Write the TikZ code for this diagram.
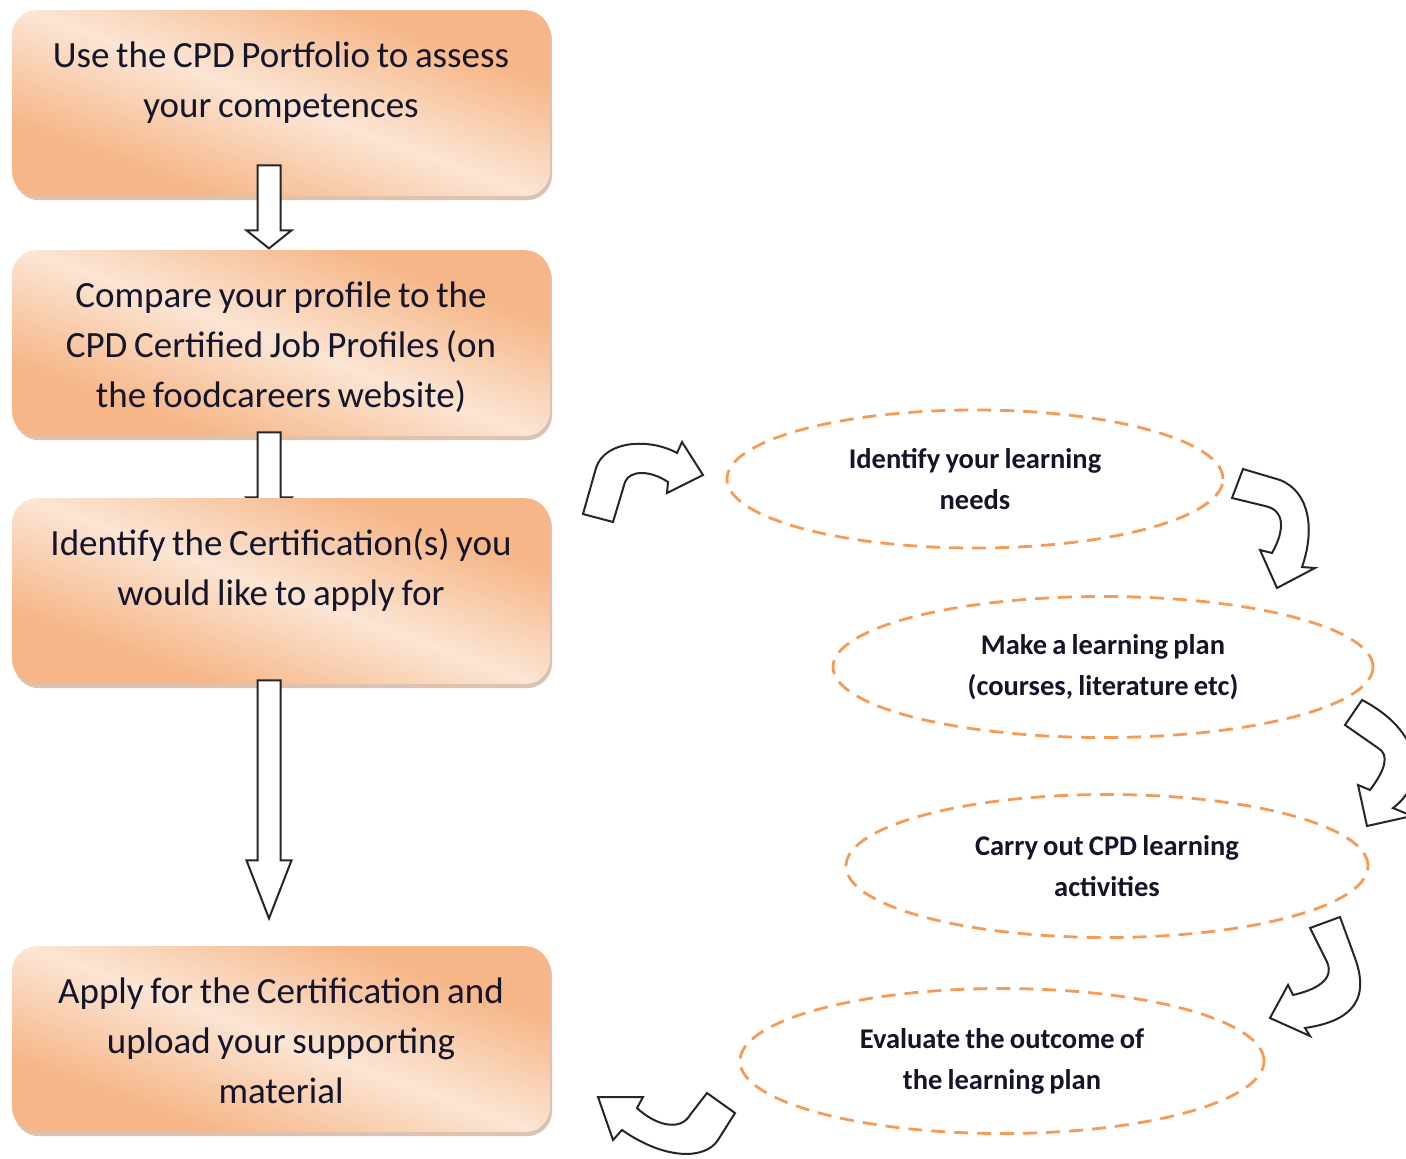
\documentclass[tikz,border=0pt]{standalone}
\usepackage{fontspec}
\setmainfont[WordSpace=0.8]{Carlito}
\usetikzlibrary{calc,shapes.geometric,shadows}
\definecolor{ink}{HTML}{14142A}
\definecolor{peach}{HTML}{F6B687}
\definecolor{cream}{HTML}{FBE5D4}
\definecolor{dashorange}{HTML}{F59B55}
\definecolor{shade}{HTML}{C09070}
\pgfdeclarehorizontalshading{boxshade}{100bp}{color(0bp)=(peach); color(30bp)=(peach); color(50bp)=(cream); color(70bp)=(peach); color(100bp)=(peach)}
\tikzset{
  box/.style={rounded corners=25pt, shading=boxshade, shading angle=70, anchor=north,
    drop shadow={shadow xshift=2pt, shadow yshift=-4pt, fill=shade, opacity=0.55},
    text width=538pt, align=flush center, inner xsep=0pt, inner ysep=0pt,
    text height=57pt, text depth=129pt, text=ink, font=\fontsize{37}{50}\selectfont},
  goal/.style={ellipse, draw=dashorange, line width=2.8pt, dash pattern=on 14pt off 9pt,
    align=center, inner sep=0pt, text=ink, font=\bfseries\fontsize{28.5}{41}\selectfont},
  hollow/.style={draw=black!85, fill=white, line width=2pt, line join=miter},
  pics/blockdown/.style 2 args={code={
    \draw[hollow] (-11.5,0) -- (-11.5,#1) -- (-22.5,#1) -- (0,#1+#2) -- (22.5,#1) -- (11.5,#1) -- (11.5,0) -- cycle;}}
}

\begin{document}
\begin{tikzpicture}[x=1pt,y=-1pt]
\clip (0,0) rectangle (1406,1159);

% Left column
\node[box] (use) at (281,10) {Use the CPD Portfolio to assess\\your competences};
\node[box] (compare) at (281,250) {Compare your profile to the\\CPD Certified Job Profiles (on\\the foodcareers website)};

\pic at ($(use.south)+(-12,-31)$) {blockdown={65}{18}};
\pic at ($(compare.south)+(-12,-4)$) {blockdown={65}{20}};

\node[box] (certif) at (281,498) {Identify the Certification(s) you\\would like to apply for};
\pic at ($(certif.south)+(-12,-4)$) {blockdown={180}{58}};
\node[box] (apply) at (281,946) {Apply for the Certification and\\upload your supporting\\material};

% Learning cycle
\node[goal, minimum width=496pt, minimum height=138pt] (needs) at (975,479) {Identify your learning\\needs};
\node[goal, minimum width=540pt, minimum height=141pt] (plan) at (1103,667) {Make a learning plan\\(courses, literature etc)};
\node[goal, minimum width=522pt, minimum height=143pt] (carry) at (1107,866) {Carry out CPD learning\\activities};
\node[goal, minimum width=524pt, minimum height=145pt] (evaluate) at (1002,1061) {Evaluate the outcome of\\the learning plan};

% Curved arrows
\draw[hollow] (583,514) -- (596,468) .. controls (605,440) and (650,438) .. (677,453) -- (682,442) -- (703,475) -- (667,493) -- (668,482) .. controls (650,470) and (630,470) .. (625,482) -- (613,522) -- cycle;
\draw[hollow] (1232,498) -- (1243,469) -- (1280,480) .. controls (1310,492) and (1315,530) .. (1302,567) -- (1315,568) -- (1277,588) -- (1260,550) -- (1272,553) .. controls (1285,530) and (1285,510) .. (1265,506) -- cycle;
\draw[hollow] (1362,700) .. controls (1420,730) and (1430,780) .. (1393,808) -- (1412,816) -- (1367,826) -- (1358,785) -- (1370,790) .. controls (1385,770) and (1390,755) .. (1378,748) -- (1345,725) -- cycle;
\draw[hollow] (1310,928) -- (1340,917) -- (1355,958) .. controls (1372,1005) and (1345,1022) .. (1305,1028) -- (1310,1036) -- (1270,1018) -- (1288,985) -- (1293,995) .. controls (1315,990) and (1335,980) .. (1327,962) -- cycle;
\draw[hollow] (598,1097) -- (643,1097) -- (637,1108) .. controls (655,1125) and (680,1132) .. (690,1115) -- (707,1093) -- (735,1113) -- (718,1140) .. controls (705,1160) and (665,1160) .. (622,1130) -- (613,1140) -- cycle;
\end{tikzpicture}
\end{document}
